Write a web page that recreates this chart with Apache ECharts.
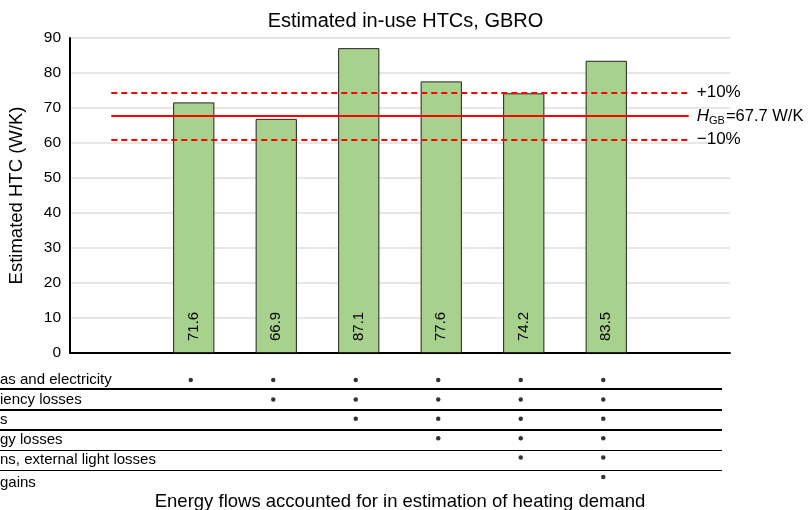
<!DOCTYPE html>
<html>
<head>
<meta charset="utf-8">
<script src="https://cdn.jsdelivr.net/npm/echarts@6/dist/echarts.min.js"></script>
<style>html,body{margin:0;padding:0;background:#fff;}#c{width:811px;height:510px;}</style>
</head>
<body>
<div id="c"></div>
<script>
// ---- data ----
var categories = ['', 'c1', 'c2', 'c3', 'c4', 'c5', 'c6', ''];
var htcValues = [null, 71.6, 66.9, 87.1, 77.6, 74.2, 83.5, null];
var hgb = 67.7;
var upper = 74.47;   // +10%
var lower = 60.93;   // -10%
var rowLabels = ['as and electricity', 'iency losses', 's', 'gy losses', 'ns, external light losses', 'gains'];
var rowDots = [[1,2,3,4,5,6],[2,3,4,5,6],[3,4,5,6],[4,5,6],[5,6],[6]];
var yTicks = [0,10,20,30,40,50,60,70,80,90];

var FONT = '"Liberation Sans", Arial, sans-serif';
var chart = echarts.init(document.getElementById('c'), null, {renderer: 'canvas'});

var dotData = [];
rowDots.forEach(function (cols, r) {
  cols.forEach(function (c) { dotData.push([c, r]); });
});

var rowTops = [372, 392, 412, 432, 452, 475];
var graphics = [];
rowLabels.forEach(function (t, i) {
  graphics.push({type: 'text', left: 0, top: rowTops[i],
    style: {text: t, fontFamily: FONT, fontSize: 15, fill: '#000'}});
});
var sepY = [389, 410, 430, 450.5, 470.5];
var sepW = [2, 2, 2, 1, 1];
sepY.forEach(function (y, i) {
  graphics.push({type: 'line', shape: {x1: 0, y1: y, x2: 722, y2: y},
    style: {stroke: '#000', lineWidth: sepW[i]}});
});

function refLine(v, dashed, labelText) {
  return [{coord: [0, v], lineStyle: {type: dashed ? [6, 4] : 'solid'},
    label: {formatter: labelText}}, {coord: [7, v]}];
}

var option = {
  animation: false,
  backgroundColor: '#fff',
  title: {text: 'Estimated in-use HTCs, GBRO', left: 'center', top: 6,
    textStyle: {fontFamily: FONT, fontSize: 20, fontWeight: 'normal', color: '#000'}},
  grid: [
    {left: 70, right: 81, top: 38, bottom: 157, outerBoundsMode: 'none', containLabel: false},
    {left: 67, right: 84, top: 370.3, height: 116.4, outerBoundsMode: 'none', containLabel: false}
  ],
  xAxis: [
    {type: 'category', data: categories, gridIndex: 0,
      axisLine: {lineStyle: {color: '#000', width: 2}}, axisTick: {show: false},
      axisLabel: {show: false},
      name: 'Energy flows accounted for in estimation of heating demand',
      nameLocation: 'middle', nameGap: 139,
      nameTextStyle: {fontFamily: FONT, fontSize: 18.5, color: '#000'}},
    {type: 'category', data: categories, gridIndex: 1, show: false}
  ],
  yAxis: [
    {type: 'value', min: 0, max: 90, interval: 10, gridIndex: 0,
      axisLine: {show: true, lineStyle: {color: '#000', width: 2}},
      axisTick: {show: false},
      axisLabel: {fontFamily: FONT, fontSize: 15.5, color: '#000', margin: 9},
      splitLine: {lineStyle: {color: '#dedede', width: 1.5}},
      name: 'Estimated HTC (W/K)', nameLocation: 'middle', nameGap: 44,
      nameTextStyle: {fontFamily: FONT, fontSize: 18.5, color: '#000'}},
    {type: 'value', min: -0.5, max: 5.5, inverse: true, gridIndex: 1, show: false}
  ],
  graphic: graphics,
  series: [
    {type: 'bar', data: htcValues, barWidth: '50%', xAxisIndex: 0, yAxisIndex: 0,
      itemStyle: {color: '#a9d18e', borderColor: '#222', borderWidth: 1},
      label: {show: true, position: 'insideBottom', rotate: 90, align: 'left',
        verticalAlign: 'middle', distance: 12, fontFamily: FONT, fontSize: 15, color: '#000',
        formatter: function (p) { return p.value.toFixed(1); }},
      markLine: {
        symbol: 'none', silent: true,
        lineStyle: {color: '#ff0000', width: 2},
        label: {position: 'end', distance: 8, fontFamily: FONT, fontSize: 17, color: '#000',
          rich: {
            i: {fontFamily: FONT, fontSize: 17, fontStyle: 'italic', color: '#000'},
            s: {fontFamily: FONT, fontSize: 11, color: '#000', verticalAlign: 'bottom', padding: [10, 1, 0, 0]},
            n: {fontFamily: FONT, fontSize: 16.5, color: '#000'}
          }},
        data: [
          refLine(upper, true, '+10%'),
          refLine(hgb, false, '{i|H}{s|GB}{n|=67.7 W/K}'),
          refLine(lower, true, '\u221210%')
        ]
      }
    },
    {type: 'scatter', data: dotData, xAxisIndex: 1, yAxisIndex: 1,
      symbol: 'circle', symbolSize: 4.5, itemStyle: {color: '#000'}, silent: true}
  ]
};
chart.setOption(option);
</script>
</body>
</html>
